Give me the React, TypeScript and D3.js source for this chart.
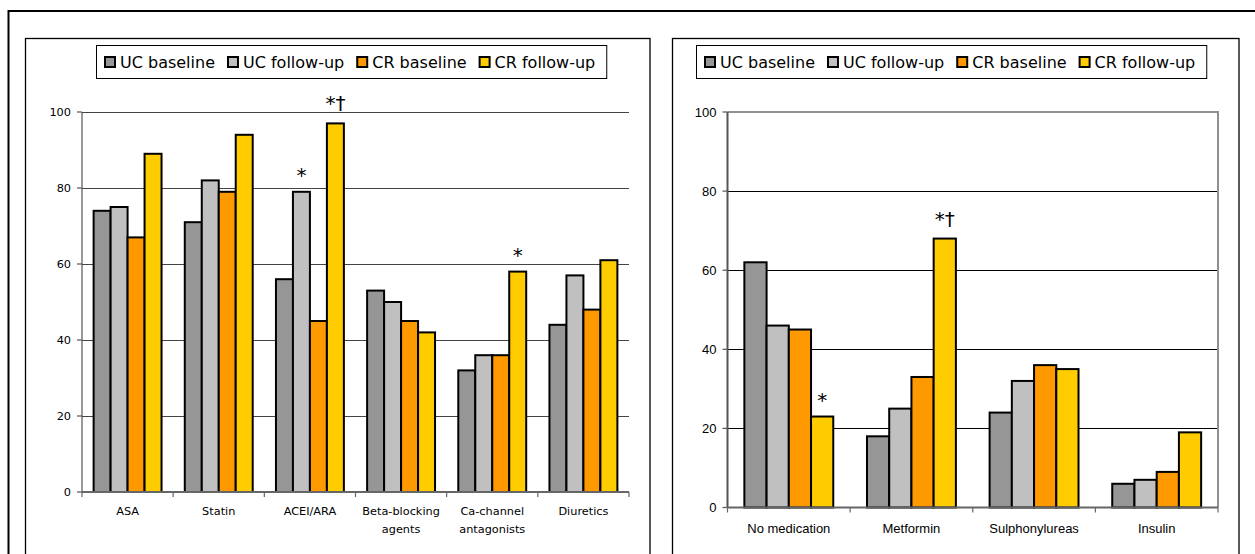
import React, { useEffect, useRef } from "react";
import * as d3 from "d3";

const seriesNames = ["UC baseline", "UC follow-up", "CR baseline", "CR follow-up"];
const seriesColors = ["#969696", "#C0C0C0", "#FF9900", "#FFCC00"];

const leftCategories = ["ASA", "Statin", "ACEI/ARA", "Beta-blocking agents", "Ca-channel antagonists", "Diuretics"];
const leftLabelLines = [["ASA"], ["Statin"], ["ACEI/ARA"], ["Beta-blocking", "agents"], ["Ca-channel", "antagonists"], ["Diuretics"]];
const leftUCBaseline = [74, 71, 56, 53, 32, 44];
const leftUCFollowUp = [75, 82, 79, 50, 36, 57];
const leftCRBaseline = [67, 79, 45, 45, 36, 48];
const leftCRFollowUp = [89, 94, 97, 42, 58, 61];
const leftMarks = [
  { cat: "ACEI/ARA", series: 1, text: "*" },
  { cat: "ACEI/ARA", series: 3, text: "*†" },
  { cat: "Ca-channel antagonists", series: 3, text: "*" },
];

const rightCategories = ["No medication", "Metformin", "Sulphonylureas", "Insulin"];
const rightUCBaseline = [62, 18, 24, 6];
const rightUCFollowUp = [46, 25, 32, 7];
const rightCRBaseline = [45, 33, 36, 9];
const rightCRFollowUp = [23, 68, 35, 19];
const rightMarks = [
  { cat: "No medication", series: 3, text: "*" },
  { cat: "Metformin", series: 3, text: "*†" },
];

const yTicks = [0, 20, 40, 60, 80, 100];

export default function App() {
  const ref = useRef<SVGSVGElement>(null);

  useEffect(() => {
    const svg = d3.select(ref.current);
    svg.selectAll("*").remove();

    // outer frame
    svg.append("rect").attr("x", 8.5).attr("y", 11).attr("width", 1260).attr("height", 600)
      .attr("fill", "none").attr("stroke", "#000").attr("stroke-width", 2);
    // panel boxes
    svg.append("rect").attr("x", 25.5).attr("y", 38.5).attr("width", 624.5).attr("height", 600)
      .attr("fill", "none").attr("stroke", "#000").attr("stroke-width", 1.3);
    svg.append("rect").attr("x", 672.5).attr("y", 38.5).attr("width", 566.5).attr("height", 600)
      .attr("fill", "none").attr("stroke", "#000").attr("stroke-width", 1.3);

    const drawLegend = (x0: number) => {
      const g = svg.append("g");
      const box = g.append("rect").attr("x", x0 + 0.5).attr("y", 45.5).attr("height", 33)
        .attr("fill", "#fff").attr("stroke", "#000").attr("stroke-width", 1);
      let cx = x0 + 8;
      seriesNames.forEach((name, i) => {
        g.append("rect").attr("x", cx + 1).attr("y", 57).attr("width", 10).attr("height", 10)
          .attr("fill", seriesColors[i]).attr("stroke", "#000").attr("stroke-width", 2);
        const t = g.append("text").attr("x", cx + 16).attr("y", 68)
          .attr("font-family", "DejaVu Sans").attr("font-size", 16).attr("fill", "#000").text(name);
        const w = (t.node() as SVGTextElement).getComputedTextLength();
        cx = cx + 16 + w + (i < seriesNames.length - 1 ? 12 : 11);
      });
      box.attr("width", cx - x0);
    };

    type Panel = {
      cats: string[];
      labels: string[][];
      values: number[][];
      marks: { cat: string; series: number; text: string }[];
      xl: number; xr: number; y0: number; y100: number;
      pad: number; left: boolean;
    };

    const drawPanel = (p: Panel) => {
      const g = svg.append("g");
      const y = d3.scaleLinear().domain([0, 100]).range([p.y0, p.y100]);
      const x0 = d3.scaleBand<string>().domain(p.cats).range([p.xl, p.xr])
        .paddingInner(p.pad).paddingOuter(p.pad / 2);
      const x1 = d3.scaleBand<number>().domain(seriesNames.map((_, i) => i)).range([0, x0.bandwidth()]).padding(0);

      const tickFont = p.left ? "DejaVu Sans" : "Liberation Sans";
      const tickSize = p.left ? 11.3 : 13;
      const catFont = p.left ? "DejaVu Sans" : "Liberation Sans";
      const catSize = p.left ? 11.3 : 13;

      // gridlines
      yTicks.filter((t) => t > 0).forEach((t) => {
        if (!p.left && t === 100) return;
        g.append("line").attr("x1", p.xl).attr("x2", p.xr).attr("y1", Math.round(y(t)) + 0.5).attr("y2", Math.round(y(t)) + 0.5)
          .attr("stroke", p.left ? "#444" : "#000").attr("stroke-width", 1);
      });
      if (!p.left) {
        g.append("path")
          .attr("d", `M${p.xl},${y(100)}H${p.xr}V${y(0)}`)
          .attr("fill", "none").attr("stroke", "#909090").attr("stroke-width", 2);
      }

      // bars
      p.cats.forEach((c, ci) => {
        p.values.forEach((vals, si) => {
          const v = vals[ci];
          g.append("rect")
            .attr("x", (x0(c) as number) + (x1(si) as number))
            .attr("y", y(v))
            .attr("width", x1.bandwidth())
            .attr("height", y(0) - y(v))
            .attr("fill", seriesColors[si]).attr("stroke", "#000").attr("stroke-width", 2);
        });
      });

      // y axis
      g.append("line").attr("x1", p.xl).attr("x2", p.xl).attr("y1", y(100)).attr("y2", y(0))
        .attr("stroke", "#555").attr("stroke-width", p.left ? 1.2 : 2);
      yTicks.forEach((t) => {
        g.append("line").attr("x1", p.xl - 5).attr("x2", p.xl).attr("y1", y(t)).attr("y2", y(t))
          .attr("stroke", "#555").attr("stroke-width", 1.2);
        g.append("text").attr("x", p.xl - 11).attr("y", y(t)).attr("dy", "0.35em")
          .attr("text-anchor", "end").attr("font-family", tickFont).attr("font-size", tickSize)
          .attr("fill", "#000").text(String(t));
      });

      // x axis
      g.append("line").attr("x1", p.xl).attr("x2", p.xr).attr("y1", y(0)).attr("y2", y(0))
        .attr("stroke", "#666").attr("stroke-width", 2);
      const step = x0.step();
      p.cats.forEach((c, ci) => {
        const tx = p.xl + step * ci;
        g.append("line").attr("x1", tx).attr("x2", tx).attr("y1", y(0)).attr("y2", y(0) + 5)
          .attr("stroke", "#666").attr("stroke-width", 1.2);
        if (ci === p.cats.length - 1) {
          g.append("line").attr("x1", p.xr).attr("x2", p.xr).attr("y1", y(0)).attr("y2", y(0) + 5)
            .attr("stroke", "#666").attr("stroke-width", 1.2);
        }
        const cx = (x0(c) as number) + x0.bandwidth() / 2;
        p.labels[ci].forEach((line, li) => {
          g.append("text").attr("x", cx).attr("y", y(0) + (p.left ? 23 : 25) + li * 18)
            .attr("text-anchor", "middle").attr("font-family", catFont).attr("font-size", catSize)
            .attr("fill", "#000").text(line);
        });
      });

      // significance marks
      p.marks.forEach((m) => {
        const ci = p.cats.indexOf(m.cat);
        const v = p.values[m.series][ci];
        const cx = (x0(m.cat) as number) + (x1(m.series) as number) + x1.bandwidth() / 2;
        g.append("text").attr("x", cx).attr("y", y(v) - (m.text.length > 1 ? 13 : 10))
          .attr("text-anchor", "middle").attr("font-family", "DejaVu Sans").attr("font-size", 20)
          .attr("fill", "#000").text(m.text);
      });
    };

    drawPanel({
      cats: leftCategories,
      labels: leftLabelLines,
      values: [leftUCBaseline, leftUCFollowUp, leftCRBaseline, leftCRFollowUp],
      marks: leftMarks,
      xl: 82, xr: 629, y0: 492, y100: 112, pad: 0.255, left: true,
    });
    drawPanel({
      cats: rightCategories,
      labels: rightCategories.map((c) => [c]),
      values: [rightUCBaseline, rightUCFollowUp, rightCRBaseline, rightCRFollowUp],
      marks: rightMarks,
      xl: 727.5, xr: 1218, y0: 507.5, y100: 112, pad: 0.275, left: false,
    });

    drawLegend(96);
    drawLegend(696);
  }, []);

  return (
    <div style={{ position: "absolute", left: 0, top: 0 }}>
      <svg ref={ref} width={1255} height={554} style={{ display: "block", background: "#fff" }} />
    </div>
  );
}
